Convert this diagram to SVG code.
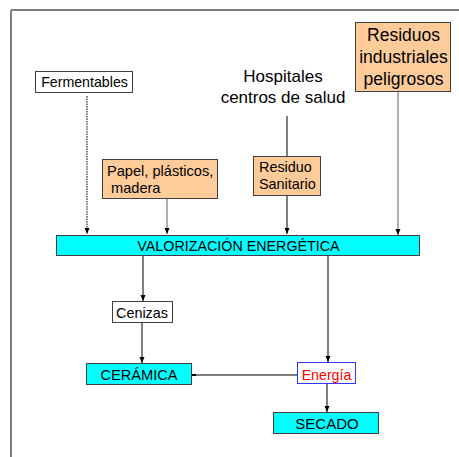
<svg xmlns="http://www.w3.org/2000/svg" width="459" height="457" viewBox="0 0 459 457">
<defs>
<marker id="ah" markerUnits="userSpaceOnUse" markerWidth="6" markerHeight="6" viewBox="0 0 6 6" refX="6" refY="3" orient="auto">
<path d="M0,0.5 L6,3 L0,5.5 Z" fill="#000"/>
</marker>
<style>
text{font-family:"Liberation Sans",Arial,sans-serif;fill:#000}
.box{stroke:#404040;stroke-width:1}
.white{fill:#fff}
.peach{fill:#FFCC99}
.cyan{fill:#00FFFF}
.c{stroke:#000;stroke-width:1;fill:none}
.g{stroke:#606060;stroke-width:1;fill:none}
.t14{font-size:14.4px}
.t17{font-size:17px}
</style>
</defs>
<rect width="459" height="457" fill="#fff"/>
<line x1="11" y1="10" x2="459" y2="10" stroke="#000" stroke-width="1"/>
<line x1="11" y1="10" x2="11" y2="457" stroke="#808080" stroke-width="2"/>

<g id="connectors">
<line class="c" x1="87" y1="96" x2="87" y2="234" stroke-dasharray="1.5,1" marker-end="url(#ah)"/>
<line class="g" x1="167" y1="199" x2="167" y2="234" marker-end="url(#ah)"/>
<line class="c" x1="287" y1="116" x2="287" y2="156"/>
<line class="c" x1="287" y1="196" x2="287" y2="234" marker-end="url(#ah)"/>
<line class="g" x1="398" y1="92" x2="398" y2="235" marker-end="url(#ah)"/>
<line class="c" x1="143" y1="256" x2="143" y2="301" marker-end="url(#ah)"/>
<line class="c" x1="142" y1="323" x2="142" y2="363" marker-end="url(#ah)"/>
<line class="c" x1="328" y1="256" x2="328" y2="362" marker-end="url(#ah)"/>
<line class="c" x1="327" y1="384" x2="327" y2="412" marker-end="url(#ah)"/>
<line x1="297" y1="375" x2="194" y2="375" stroke="#808080" stroke-width="2"/>
<line x1="196" y1="375" x2="192" y2="375" stroke="#000" stroke-width="2"/>
</g>

<g id="fermentables">
<rect class="box white" x="35.5" y="71.5" width="97" height="21"/>
<text class="t14" x="84.5" y="87" text-anchor="middle" style="font-size:14.2px">Fermentables</text>
</g>

<g id="papel">
<rect class="box peach" x="102.5" y="159.5" width="115" height="39"/>
<text class="t14" x="107" y="176" style="font-size:14.6px">Papel, plásticos,</text>
<text class="t14" x="111" y="193" style="font-size:14.6px">madera</text>
</g>

<g id="hospitales">
<text class="t17" x="283" y="82" text-anchor="middle">Hospitales</text>
<text class="t17" x="283" y="103" text-anchor="middle">centros de salud</text>
</g>

<g id="residuo-sanitario">
<rect class="box peach" x="253.5" y="156.5" width="67" height="39"/>
<text class="t14" x="259" y="172">Residuo</text>
<text class="t14" x="259" y="189">Sanitario</text>
</g>

<g id="residuos-industriales">
<rect class="box peach" x="355.5" y="22.5" width="95" height="69"/>
<text class="t17" x="403.5" y="41" text-anchor="middle" style="font-size:17.5px">Residuos</text>
<text class="t17" x="403.5" y="63" text-anchor="middle" style="font-size:17.5px">industriales</text>
<text class="t17" x="403.5" y="85" text-anchor="middle" style="font-size:17.5px">peligrosos</text>
</g>

<g id="valorizacion">
<rect class="box cyan" x="56.5" y="235.5" width="363" height="20"/>
<text class="t14" x="238.5" y="251" text-anchor="middle" style="font-size:14.3px">VALORIZACIÓN ENERGÉTICA</text>
</g>

<g id="cenizas">
<rect class="box white" x="112.5" y="301.5" width="60" height="21"/>
<text class="t14" x="142" y="318" text-anchor="middle">Cenizas</text>
</g>

<g id="ceramica">
<rect class="box cyan" x="86.5" y="363.5" width="105" height="21"/>
<text class="t14" x="139" y="380" text-anchor="middle" style="font-size:14.6px">CERÁMICA</text>
</g>

<g id="energia">
<rect x="297.5" y="362.5" width="58" height="21" fill="#fff" stroke="#3333ff" stroke-width="1"/>
<text class="t14" x="326.5" y="379.5" text-anchor="middle" style="font-size:14.2px;fill:#ff0000">Energía</text>
</g>

<g id="secado">
<rect class="box cyan" x="273.5" y="412.5" width="105" height="21"/>
<text class="t14" x="327" y="429" text-anchor="middle" style="font-size:15px">SECADO</text>
</g>
</svg>
